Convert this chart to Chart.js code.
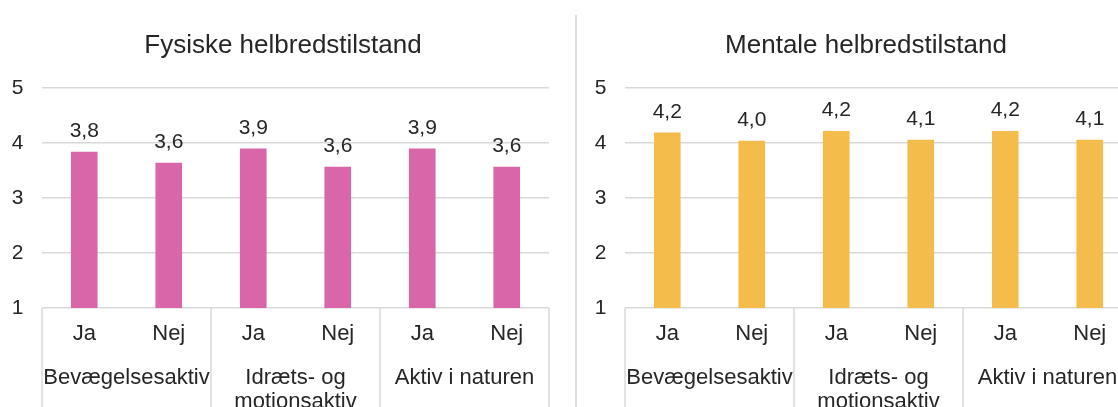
<!DOCTYPE html>
<html lang="da">
<head>
<meta charset="utf-8">
<title>Helbredstilstand</title>
<script src="https://cdn.jsdelivr.net/npm/chart.js@4.4.1/dist/chart.umd.min.js"></script>
<style>
    html, body { margin: 0; padding: 0; background: #fff; overflow: hidden; }
    body { width: 1118px; height: 407px; position: relative; }
    .panel { position: absolute; top: 0; width: 566px; height: 407px; }
    .divider { position: absolute; left: 575px; top: 15px; width: 2px; height: 392px; background: #dedede; }
</style>
</head>
<body>
<div class="panel" style="left:0"><canvas id="fysiskChart" width="566" height="407"></canvas></div>
<div class="divider"></div>
<div class="panel" style="left:583px"><canvas id="mentalChart" width="566" height="407"></canvas></div>
<script>
// Svarkategorier og grupper (to niveauer på x-aksen)
const answers = ['Ja', 'Nej', 'Ja', 'Nej', 'Ja', 'Nej'];
const groups = [['Bevægelsesaktiv'], ['Idræts- og', 'motionsaktiv'], ['Aktiv i naturen']];

// Gennemsnitlig helbredstilstand (skala 1-5)
const fysiskValues = [3.84, 3.64, 3.90, 3.57, 3.90, 3.57];
const mentalValues = [4.19, 4.04, 4.22, 4.06, 4.22, 4.06];

const yTicks = [1, 2, 3, 4, 5];

const textColor = '#262626';
const gridColor = '#d9d9d9';
const fontFamily = "'Liberation Sans', Arial, sans-serif";

Chart.defaults.font.family = fontFamily;
Chart.defaults.color = textColor;

// Titel, værdier over søjlerne og gruppe-etiketter under x-aksen
const labelsPlugin = {
    id: 'groupLabels',
    afterDatasetsDraw(chart) {
        const ctx = chart.ctx;
        const meta = chart.getDatasetMeta(0);
        const data = chart.data.datasets[0].data;
        ctx.save();
        ctx.font = '21px ' + fontFamily;
        ctx.fillStyle = textColor;
        ctx.textAlign = 'center';
        ctx.textBaseline = 'alphabetic';
        meta.data.forEach((bar, i) => {
            ctx.fillText(data[i].toFixed(1).replace('.', ','), bar.x, bar.y - 15);
        });
        ctx.restore();
    },
    afterDraw(chart) {
        const ctx = chart.ctx;
        const x = chart.scales.x;
        const half = (x.getPixelForValue(1) - x.getPixelForValue(0)) / 2;
        const top = chart.chartArea.bottom;
        ctx.save();
        ctx.fillStyle = textColor;
        ctx.textAlign = 'center';
        ctx.textBaseline = 'middle';
        ctx.font = '26px ' + fontFamily;
        ctx.fillText(chart.options.plugins.groupLabels.title, chart.width / 2, 46);

        ctx.strokeStyle = gridColor;
        ctx.lineWidth = 1.5;
        ctx.font = '22px ' + fontFamily;
        ctx.textBaseline = 'alphabetic';
        groups.forEach((lines, g) => {
            const left = x.getPixelForValue(g * 2) - half;
            const right = x.getPixelForValue(g * 2 + 1) + half;
            ctx.beginPath();
            ctx.moveTo(left, top);
            ctx.lineTo(left, chart.height);
            if (g === groups.length - 1) {
                ctx.moveTo(right, top);
                ctx.lineTo(right, chart.height);
            }
            ctx.stroke();
            lines.forEach((line, l) => {
                ctx.fillText(line, (left + right) / 2, top + 76 + l * 24);
            });
        });
        ctx.restore();
    }
};

function makeChart(id, title, values, color) {
    const ctx = document.getElementById(id).getContext('2d');
    return new Chart(ctx, {
        type: 'bar',
        data: {
            labels: answers,
            datasets: [{
                data: values,
                backgroundColor: color,
                borderWidth: 0,
                categoryPercentage: 1,
                barPercentage: 0.315
            }]
        },
        options: {
            responsive: false,
            animation: false,
            devicePixelRatio: 1,
            layout: { padding: { left: 0, right: 17, top: 88, bottom: 0 } },
            plugins: {
                legend: { display: false },
                tooltip: { enabled: false },
                title: { display: false },
                groupLabels: { title: title }
            },
            scales: {
                x: {
                    grid: { display: false, drawTicks: false },
                    border: { display: false },
                    ticks: { font: { size: 22 }, padding: 13, maxRotation: 0, autoSkip: false },
                    afterFit(scale) { scale.height = 99; }
                },
                y: {
                    min: yTicks[0],
                    max: yTicks[yTicks.length - 1],
                    afterBuildTicks(scale) { scale.ticks = yTicks.map(v => ({ value: v })); },
                    grid: { color: gridColor, lineWidth: 1.5, drawTicks: false },
                    border: { display: false },
                    ticks: { font: { size: 21 }, padding: 18.5 },
                    afterFit(scale) { scale.width = 42; }
                }
            }
        },
        plugins: [labelsPlugin]
    });
}

makeChart('fysiskChart', 'Fysiske helbredstilstand', fysiskValues, '#D866A8');
makeChart('mentalChart', 'Mentale helbredstilstand', mentalValues, '#F4BD4B');
</script>
</body>
</html>
